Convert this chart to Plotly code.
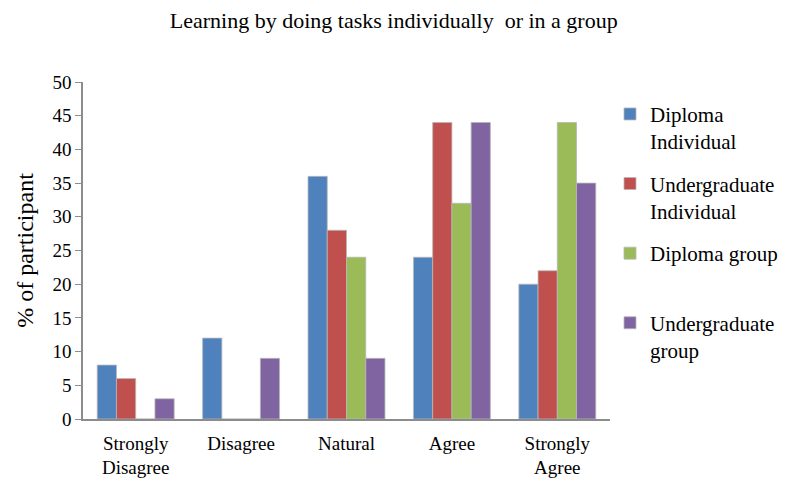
import plotly.graph_objects as go

categories = ["Strongly<br>Disagree", "Disagree", "Natural", "Agree", "Strongly<br>Agree"]
series_names = ["Diploma<br>Individual", "Undergraduate<br>Individual", "Diploma group<br> ", "Undergraduate<br>group"]
diploma_individual = [8, 12, 36, 24, 20]
undergrad_individual = [6, 0, 28, 44, 22]
diploma_group = [0, 0, 24, 32, 44]
undergrad_group = [3, 9, 9, 44, 35]
colors = ["#4F81BD", "#C0504D", "#9BBB59", "#8064A2"]
y_ticks = list(range(0, 51, 5))

font_family = "Liberation Serif, Times New Roman, serif"

fig = go.Figure()
for i, (name, vals, col) in enumerate(zip(series_names,
                           [diploma_individual, undergrad_individual, diploma_group, undergrad_group],
                           colors)):
    fig.add_trace(go.Bar(x=categories, y=vals, name=name, legendgroup=f"g{i}",
                         marker=dict(color=col, line=dict(color="#b8b8b8", width=0.8))))

fig.update_layout(
    width=797, height=489,
    barmode="group", bargap=0.27, bargroupgap=0,
    plot_bgcolor="white", paper_bgcolor="white",
    font=dict(family=font_family, size=19, color="black"),
    title=dict(text="Learning by doing tasks individually  or in a group",
               x=0.484, xanchor="center", y=0.975, yanchor="middle",
               font=dict(family=font_family, size=22)),
    margin=dict(l=75, r=195, t=74, b=78),
    legend=dict(x=1.0, xanchor="left", y=0.965, yanchor="top",
                font=dict(family=font_family, size=21), valign="top",
                tracegroupgap=12, itemwidth=30),
    showlegend=True,
)
fig.update_xaxes(showline=True, linecolor="#8c8c8c", linewidth=1.5, ticks="",
                 tickfont=dict(size=19), showgrid=False, ticklabelstandoff=6)
fig.update_yaxes(range=[0, 50], tickvals=y_ticks, showline=True, linecolor="#8c8c8c",
                 linewidth=1.5, ticks="outside", ticklen=6, tickcolor="#8c8c8c",
                 showgrid=False, zeroline=False, tickfont=dict(size=19), automargin=False,
                 title=dict(text="% of participant", font=dict(size=24), standoff=12))

fig.write_html("out.html")
